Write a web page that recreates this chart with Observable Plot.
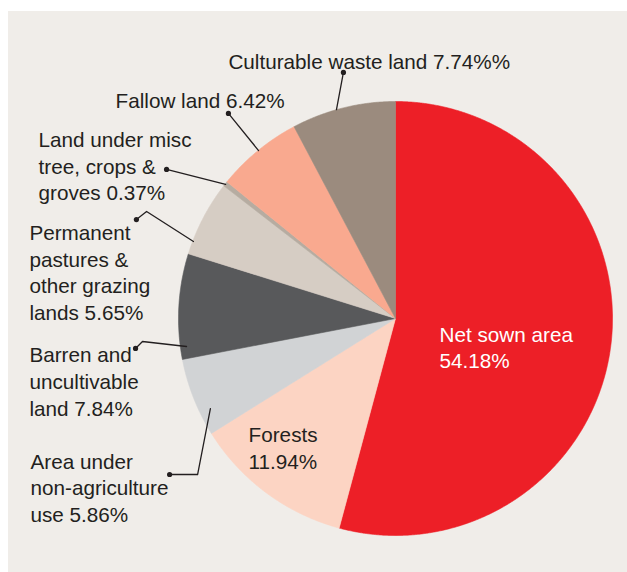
<!DOCTYPE html>
<html><head><meta charset="utf-8">
<script src="https://cdn.jsdelivr.net/npm/d3@7"></script>
<script src="https://cdn.jsdelivr.net/npm/@observablehq/plot@0.6"></script>
<style>
html,body{margin:0;padding:0;background:#fff;}
#chart{position:absolute;left:8px;top:11px;}
</style></head><body><div id="chart"></div>
<script>
// ---- data ----
const categories = ["Net sown area", "Forests", "Area under non-agriculture use", "Barren and uncultivable land",
  "Permanent pastures & other grazing lands", "Land under misc tree, crops & groves", "Fallow land", "Culturable waste land"];
const shares = [54.18, 11.94, 5.86, 7.84, 5.65, 0.37, 6.42, 7.74];
const labelTexts = ["Net sown area\n54.18%", "Forests\n11.94%", "Area under\nnon-agriculture\nuse 5.86%",
  "Barren and\nuncultivable\nland 7.84%", "Permanent\npastures &\nother grazing\nlands 5.65%",
  "Land under misc\ntree, crops &\ngroves 0.37%", "Fallow land 6.42%", "Culturable waste land 7.74%%"];

// ---- styles / layout ----
const sliceColors = ["#ed1f27", "#fcd4c3", "#d1d3d5", "#58595b", "#d6cdc4", "#b6aca1", "#f9a98f", "#9b8b7e"];
const labelColors = ["#ffffff", "#231f20", "#231f20", "#231f20", "#231f20", "#231f20", "#231f20", "#231f20"];
// label anchor (left, vertical middle of block) in pie-radius units
const labelPos = [[0.203, -0.129], [-0.677, -0.592], [-1.682, -0.776], [-1.687, -0.286],
  [-1.687, 0.217], [-1.645, 0.707], [-1.290, 1.009], [-0.770, 1.189]];
// leader lines in pie-radius units (first point gets the dot)
const leaders = [
  null, null,
  [[-1.041, -0.719], [-0.912, -0.719], [-0.853, -0.415]],
  [[-1.198, -0.138], [-1.166, -0.106], [-0.963, -0.129]],
  [[-1.194, 0.456], [-1.147, 0.493], [-0.931, 0.355]],
  [[-1.055, 0.687], [-0.783, 0.618]],
  [[-0.770, 0.945], [-0.631, 0.774]],
  [[-0.240, 1.134], [-0.272, 0.963]]
];

const arcs = d3.pie().sort(null).value(d => d)(shares);
const slicePts = [];
arcs.forEach((a, i) => {
  const name = categories[i];
  slicePts.push({name, x: 0, y: 0});
  const n = Math.max(2, Math.ceil((a.endAngle - a.startAngle) / 0.005));
  for (let k = 0; k <= n; k++) {
    const t = a.startAngle + (a.endAngle - a.startAngle) * k / n;
    slicePts.push({name, x: Math.sin(t), y: Math.cos(t)});
  }
  slicePts.push({name, x: 0, y: 0});
});

const leaderPts = [], dotPts = [];
leaders.forEach((L, i) => {
  if (!L) return;
  L.forEach(p => leaderPts.push({id: i, x: p[0], y: p[1]}));
  dotPts.push({x: L[0][0], y: L[0][1]});
});

const labels = labelTexts.map((t, i) => ({text: t, x: labelPos[i][0], y: labelPos[i][1], color: labelColors[i]}));

const cx = 387, cy = 307, R = 217;
const chart = Plot.plot({
  width: 619, height: 561, margin: 0,
  x: {domain: [-1, 1], range: [cx - R, cx + R], axis: null},
  y: {domain: [-1, 1], range: [cy + R, cy - R], axis: null},
  color: {domain: categories, range: sliceColors},
  style: {background: "#f0ede9", fontFamily: "'Liberation Sans', Arial, sans-serif"},
  marks: [
    Plot.line(slicePts, {x: "x", y: "y", z: "name", fill: "name", stroke: "name", strokeWidth: 0.6, curve: "linear"}),
    Plot.line(leaderPts, {x: "x", y: "y", z: "id", stroke: "#231f20", strokeWidth: 1.3}),
    Plot.dot(dotPts, {x: "x", y: "y", r: 2.6, fill: "#231f20"}),
    Plot.text(labels, {x: "x", y: "y", text: "text", fill: d => d.color, textAnchor: "start",
      lineAnchor: "middle", lineHeight: 1.29, fontSize: 20.7})
  ]
});
document.getElementById("chart").appendChild(chart);
</script></body></html>
